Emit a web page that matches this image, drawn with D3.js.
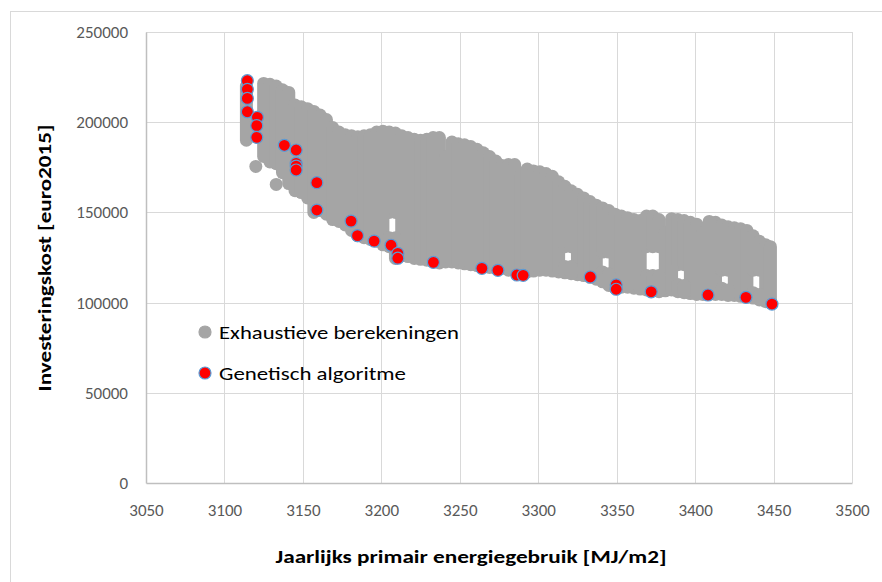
<!DOCTYPE html>
<html>
<head>
<meta charset="utf-8">
<script src="https://cdn.jsdelivr.net/npm/d3@7"></script>
<style>
  html, body { margin: 0; padding: 0; background: #fff; }
  svg { display: block; }
</style>
</head>
<body>
<svg id="chart" width="882" height="582"></svg>
<script>
// Exhaustive enumeration: runs of overlapping results at one energy level
// (energy [MJ/m2], highest and lowest investment cost [euro2015] of the run)
const cloudEnergy = [3114, 3120, 3125, 3129, 3133, 3137, 3141, 3145, 3149, 3153, 3157, 3161, 3165, 3169, 3173, 3177,
  3181, 3185, 3189, 3193, 3197, 3201, 3205, 3209, 3213, 3217, 3221, 3225, 3229, 3233, 3237, 3241,
  3245, 3249, 3253, 3257, 3261, 3265, 3269, 3273, 3277, 3281, 3285, 3289, 3293, 3297, 3301, 3305,
  3309, 3313, 3317, 3321, 3325, 3329, 3333, 3337, 3341, 3345, 3349, 3353, 3357, 3361, 3365, 3369,
  3373, 3377, 3381, 3385, 3389, 3393, 3397, 3401, 3405, 3409, 3413, 3417, 3421, 3425, 3429, 3433,
  3437, 3441, 3445, 3448,
  3120, 3133, 3205, 3209, 3317, 3321, 3341, 3345, 3369, 3373, 3377, 3389, 3393, 3417, 3421, 3437, 3441];
const cloudCostHigh = [220000, 200000, 221500, 221000, 220000, 218000, 216500, 209500, 208500, 207500, 206000, 204000, 201500, 197000, 194500, 193000,
  192500, 192000, 192500, 193000, 194500, 195000, 194500, 194000, 192500, 191500, 190500, 190000, 190500, 191500, 191500, 181000,
  189000, 188000, 187500, 186500, 185000, 183000, 181000, 178500, 176000, 176500, 176500, 171000, 174000, 173000, 172500, 171500,
  170000, 167000, 164500, 162000, 160000, 158000, 156000, 154000, 152500, 151000, 149000, 148000, 147000, 146000, 145500, 148000,
  148000, 146000, 139000, 146500, 146000, 145500, 144500, 143500, 139000, 145000, 144500, 143000, 142000, 141500, 141000, 140000,
  137000, 134000, 132000, 131000,
  175500, 165500, 136000, 136000, 120000, 120000, 117000, 116000, 115000, 115000, 115000, 110000, 109500, 108000, 107000, 105500, 104500];
const cloudCostLow = [190000, 192000, 181000, 178000, 177000, 172000, 166000, 162000, 161000, 158000, 150000, 151000, 149000, 146000, 145000, 143000,
  140000, 137000, 136000, 135000, 134000, 132000, 150000, 150000, 126000, 125500, 124500, 124000, 123500, 122500, 122000, 122500,
  122500, 122000, 121500, 121000, 120500, 120000, 119500, 119000, 119000, 118000, 117500, 116500, 117000, 117500, 118000, 118000,
  117500, 117000, 131000, 131000, 115500, 115000, 114000, 113000, 128000, 128000, 108000, 108500, 108500, 108000, 107500, 131000,
  131000, 131000, 106500, 107000, 121000, 121000, 105000, 104500, 104500, 104500, 104500, 118000, 118000, 104000, 103500, 103000,
  118000, 118000, 100500, 100000,
  175500, 165500, 131000, 124500, 116500, 116000, 111500, 109500, 107000, 106500, 106000, 106000, 105500, 104500, 104000, 102500, 101500];

// Genetic algorithm results
const gaEnergy = [3114.6, 3114.6, 3114.6, 3114.6, 3121, 3120.6, 3120.6, 3138.2, 3145.7, 3145.7, 3145.7, 3145.7,
  3158.9, 3158.9, 3180.7, 3184.8, 3195.4, 3206.2, 3210.5, 3210.5, 3233.2, 3264.1, 3274.3, 3286.4,
  3290.4, 3333.2, 3349.7, 3349.7, 3372, 3408.2, 3432.4, 3449];
const gaCost = [223000, 218200, 213200, 205800, 202700, 198100, 191600, 187200, 184600, 177200, 175700, 173500,
  166500, 151300, 145200, 137100, 134100, 131800, 127300, 124600, 122300, 119000, 117900, 115300,
  115100, 114200, 109800, 107400, 106000, 104200, 102900, 99200];

const xTicks = [3050, 3100, 3150, 3200, 3250, 3300, 3350, 3400, 3450, 3500];
const yTicks = [0, 50000, 100000, 150000, 200000, 250000];

const seriesNames = ["Exhaustieve berekeningen", "Genetisch algoritme"];
const xTitle = "Jaarlijks primair energiegebruik [MJ/m2]";
const yTitle = "Investeringskost [euro2015]";

const FONT = "Calibri, Carlito, Lato, sans-serif";
const GREY = "#A5A5A5";
const RED = "#FF0000";
const BLUE = "#5B9BD5";
const R = 6;

const svg = d3.select("#chart");
const plot = { left: 146, top: 32, right: 852, bottom: 483 };

const x = d3.scaleLinear().domain([3050, 3500]).range([plot.left, plot.right]);
const y = d3.scaleLinear().domain([0, 250000]).range([plot.bottom, plot.top]);

// chart area frame
svg.append("rect")
  .attr("x", 10.5).attr("y", 11.5).attr("width", 900).attr("height", 600)
  .attr("fill", "#fff").attr("stroke", "#D9D9D9").attr("stroke-width", 1);

// gridlines
const grid = svg.append("g");
grid.selectAll("line.v").data(xTicks.slice(1)).join("line")
  .attr("x1", d => Math.round(x(d)) + 0.5).attr("x2", d => Math.round(x(d)) + 0.5)
  .attr("y1", plot.top).attr("y2", plot.bottom)
  .attr("stroke", "#D9D9D9").attr("stroke-width", 1);
grid.selectAll("line.h").data(yTicks.slice(1)).join("line")
  .attr("x1", plot.left).attr("x2", plot.right)
  .attr("y1", d => Math.round(y(d)) + 0.5).attr("y2", d => Math.round(y(d)) + 0.5)
  .attr("stroke", "#D9D9D9").attr("stroke-width", 1);

// axes
const xAxis = svg.append("g")
  .attr("transform", `translate(0,${plot.bottom})`)
  .call(d3.axisBottom(x).tickValues(xTicks).tickSize(0).tickPadding(21).tickFormat(d3.format("d")));
const yAxis = svg.append("g")
  .attr("transform", `translate(${plot.left},0)`)
  .call(d3.axisLeft(y).tickValues(yTicks).tickSize(0).tickPadding(18).tickFormat(d3.format("d")));
[xAxis, yAxis].forEach(a => {
  a.select(".domain").attr("stroke", "#BFBFBF").attr("stroke-width", 1.5);
  a.selectAll("text").attr("fill", "#595959").attr("font-size", 17)
    .style("font-family", FONT).style("font-size", "17px");
});

// exhaustive results
const cloud = cloudEnergy.map((e, i) => ({ e, hi: cloudCostHigh[i], lo: cloudCostLow[i] }));
svg.append("g").selectAll("line").data(cloud).join("line")
  .attr("x1", d => x(d.e)).attr("x2", d => x(d.e))
  .attr("y1", d => y(d.hi)).attr("y2", d => y(d.lo))
  .attr("stroke", GREY).attr("stroke-width", 2 * R + 1).attr("stroke-linecap", "round");

// genetic algorithm results
const ga = gaEnergy.map((e, i) => ({ e, c: gaCost[i] }));
svg.append("g").selectAll("circle").data(ga).join("circle")
  .attr("cx", d => x(d.e)).attr("cy", d => y(d.c)).attr("r", R)
  .attr("fill", RED).attr("stroke", BLUE).attr("stroke-width", 1.2);

// legend
const legend = svg.append("g");
const legendItems = [
  { name: seriesNames[0], fill: GREY, stroke: GREY, w: 240 },
  { name: seriesNames[1], fill: RED, stroke: BLUE, w: 187 }
];
legendItems.forEach((it, i) => {
  const cy = 332 + i * 41;
  legend.append("circle").attr("cx", 205).attr("cy", cy).attr("r", R)
    .attr("fill", it.fill).attr("stroke", it.stroke).attr("stroke-width", 1.2);
  legend.append("text").attr("x", 219).attr("y", cy + 6.5)
    .attr("textLength", it.w).attr("lengthAdjust", "spacingAndGlyphs")
    .style("font-family", FONT).style("font-size", "18.5px").attr("fill", "#000")
    .text(it.name);
});

// axis titles
svg.append("text")
  .attr("x", 471).attr("y", 563).attr("text-anchor", "middle")
  .attr("textLength", 391).attr("lengthAdjust", "spacingAndGlyphs")
  .style("font-family", FONT).style("font-size", "17.5px").style("font-weight", "bold")
  .attr("fill", "#000").text(xTitle);
svg.append("text")
  .attr("transform", "translate(51,258) rotate(-90)").attr("text-anchor", "middle")
  .attr("textLength", 267).attr("lengthAdjust", "spacingAndGlyphs")
  .style("font-family", FONT).style("font-size", "17.5px").style("font-weight", "bold")
  .attr("fill", "#000").text(yTitle);
</script>
</body>
</html>
